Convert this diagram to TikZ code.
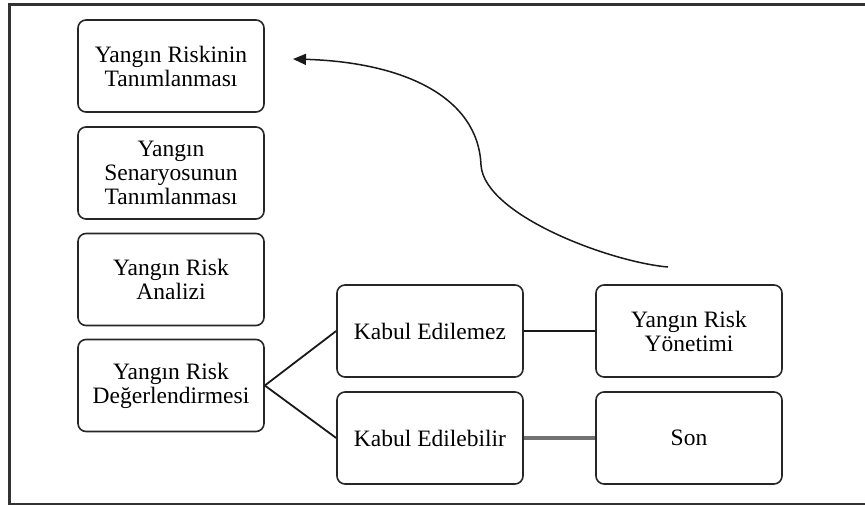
\documentclass[tikz,border=0pt]{standalone}
\usepackage{fontspec}
\setmainfont{Liberation Serif}
\usetikzlibrary{arrows.meta}
\tikzset{
  box/.style={draw=black!85, line width=1.6pt, rounded corners=8pt, minimum width=186pt, minimum height=92pt, inner sep=0pt, align=center, font=\fontsize{23.5}{24}\selectfont},
  link/.style={draw=black!90, line width=1.8pt},
  greylink/.style={draw=black!55, line width=3.5pt},
}
\begin{document}
\begin{tikzpicture}[x=1pt,y=-1pt]
\useasboundingbox (0,0) rectangle (865,506);
\clip (0,0) rectangle (865,506);
\draw[black!80, line width=2.2pt] (9.5,4.5) rectangle (880,504);
\node[box] (b1) at (171,66) {Yangın Riskinin\\Tanımlanması};
\node[box] (b2) at (171,173) {Yangın\\Senaryosunun\\Tanımlanması};
\node[box] (b3) at (171,279.5) {Yangın Risk\\Analizi};
\node[box] (b4) at (171,385.5) {Yangın Risk\\Değerlendirmesi};
\node[box] (ke) at (430,331) {Kabul Edilemez};
\node[box] (keb) at (430,438) {Kabul Edilebilir};
\node[box] (yry) at (689,331) {Yangın Risk\\Yönetimi};
\node[box] (son) at (689,438) {Son};
\draw[link] (b4.east) -- (ke.west);
\draw[link] (b4.east) -- (keb.west);
\draw[link] (ke.east) -- (yry.west);
\draw[greylink] (keb.east) -- (son.west);
\coordinate (cs) at (668,267);
\coordinate (cm) at (481,165);
\coordinate (ce) at (293,59);
\draw[black!90, line width=1.5pt, -{Triangle[length=13pt,width=11pt]}]
  (cs) .. controls (610,262) and (484,215) .. (cm)
       .. controls (478,95) and (400,62) .. (ce);
\end{tikzpicture}
\end{document}
